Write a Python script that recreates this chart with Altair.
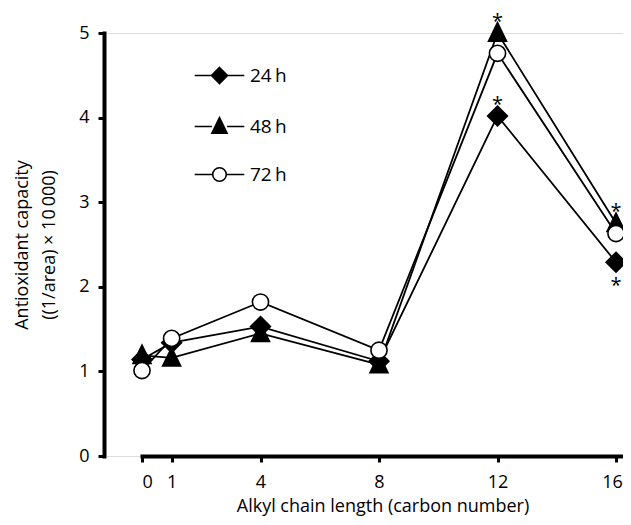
import altair as alt
import pandas as pd

# ---- data ----
carbon = [0, 1, 4, 8, 12, 16]
series_names = ["24\u2009h", "48\u2009h", "72\u2009h"]
v24 = [1.14, 1.34, 1.53, 1.12, 4.02, 2.29]
v48 = [1.19, 1.16, 1.45, 1.08, 5.00, 2.75]
v72 = [1.01, 1.39, 1.82, 1.25, 4.76, 2.63]

# significance stars (x, y of the marker they belong to)
star_above_x = [12, 12, 16]
star_above_y = [5.00, 4.02, 2.75]
star_below_x = [16]
star_below_y = [2.29]

x_ticks = [0, 1, 4, 8, 12, 16]
y_ticks = [0, 1, 2, 3, 4, 5]

rows = []
for name, vals in zip(series_names, [v24, v48, v72]):
    for c, v in zip(carbon, vals):
        rows.append({"carbon": c, "value": v, "series": name})
df = pd.DataFrame(rows)
df_above = pd.DataFrame({"carbon": star_above_x, "value": star_above_y})
df_below = pd.DataFrame({"carbon": star_below_x, "value": star_below_y})

FONT = "Open Sans"
FILLS = ["black", "black", "white"]
STROKES = ["black", "black", "black"]

# marker paths (unit box)
P_DIAMOND = "M0,-1.1L1.1,0L0,1.1L-1.1,0Z"
P_TRIANGLE = "M0,-1.15L1,0.9L-1,0.9Z"
P_CIRCLE = "M0.9,0A0.9,0.9,0,1,1,-0.9,0A0.9,0.9,0,1,1,0.9,0Z"

# legend paths: marker with a line through it
L_DIAMOND = "M-3.1,0H-1M1,0H3.1M0,-1L1,0L0,1L-1,0Z"
L_TRIANGLE = "M-3.1,0H-0.95M0.95,0H3.1M0,-1.1L0.95,0.85L-0.95,0.85Z"
L_CIRCLE = "M-3.1,0H-0.85M0.85,0H3.1M0.85,0A0.85,0.85,0,1,1,-0.85,0A0.85,0.85,0,1,1,0.85,0Z"

legend = alt.Legend(
    title=None,
    orient="none",
    legendX=106,
    legendY=33,
    symbolSize=256,
    symbolStrokeColor="black",
    symbolStrokeWidth=1.6,
    symbolOpacity=1,
    labelFont=FONT,
    labelFontSize=19,
    labelColor="black",
    labelOffset=21,
    rowPadding=27,
)

x_scale = alt.Scale(domain=[0, 16.236], range=[38, 519], nice=False, zero=False)
y_scale = alt.Scale(domain=[0, 5], nice=False)

x_enc = alt.X(
    "carbon:Q",
    scale=x_scale,
    axis=alt.Axis(
        values=x_ticks,
        format="d",
        title="Alkyl chain length (carbon number)",
        titleFont=FONT,
        titleFontSize=18,
        titleFontWeight="normal",
        titleColor="black",
        titlePadding=6,
        labelFont=FONT,
        labelFontSize=18,
        labelColor="black",
        labelPadding=11,
        labelOffset={"condition": {"test": "datum.value == 16", "value": -4}, "value": 0},
        domainColor="black",
        domainWidth=4,
        domainCap="square",
        tickColor="black",
        tickWidth=3,
        tickSize=6,
        grid=False,
    ),
)
y_enc = alt.Y(
    "value:Q",
    scale=y_scale,
    axis=alt.Axis(
        values=y_ticks,
        format="d",
        title=["Antioxidant capacity", "((1/area) \u00d7 10\u2009000)"],
        titleFont=FONT,
        titleFontSize=18,
        titleFontWeight="normal",
        titleColor="black",
        titleLineHeight=27,
        titlePadding=20,
        labelFont=FONT,
        labelFontSize=18,
        labelColor="black",
        labelPadding=9,
        domainColor="black",
        domainWidth=4,
        domainCap="square",
        tickColor="black",
        tickWidth=3,
        tickSize=6,
        grid=False,
    ),
)

lines = alt.Chart(df).mark_line(color="black", strokeWidth=1.8).encode(
    x=x_enc, y=y_enc, detail="series:N"
)

points = alt.Chart(df).mark_point(
    filled=True, stroke="black", strokeWidth=1.6, size=324, opacity=1
).encode(
    x="carbon:Q",
    y="value:Q",
    shape=alt.Shape(
        "series:N",
        scale=alt.Scale(domain=series_names, range=[P_DIAMOND, P_TRIANGLE, P_CIRCLE]),
        legend=None,
    ),
    fill=alt.Fill(
        "series:N",
        scale=alt.Scale(domain=series_names, range=FILLS),
        legend=None,
    ),
)

# invisible layer that only carries the legend (marker with line through it)
legend_layer = alt.Chart(df).mark_point(
    filled=True, strokeWidth=1.6, size=256, opacity=0
).encode(
    x="carbon:Q",
    y="value:Q",
    shape=alt.Shape(
        "series:N",
        scale=alt.Scale(domain=series_names, range=[L_DIAMOND, L_TRIANGLE, L_CIRCLE]),
        legend=legend,
    ),
    fill=alt.Fill(
        "series:N",
        scale=alt.Scale(domain=series_names, range=FILLS),
        legend=legend,
    ),
    stroke=alt.Stroke(
        "series:N",
        scale=alt.Scale(domain=series_names, range=STROKES),
        legend=legend,
    ),
)

stars_above = alt.Chart(df_above).mark_text(
    text="*", font=FONT, fontSize=20, color="black", dy=-21, baseline="top"
).encode(x="carbon:Q", y="value:Q")

stars_below = alt.Chart(df_below).mark_text(
    text="*", font=FONT, fontSize=20, color="black", dy=14, baseline="top"
).encode(x="carbon:Q", y="value:Q")

chart = (
    alt.layer(lines, points, legend_layer, stars_above, stars_below)
    .resolve_scale(shape="independent", fill="independent", stroke="independent")
    .properties(
        width=519,
        height=423,
        autosize=alt.AutoSizeParams(type="none"),
        padding={"left": 96, "top": 25, "right": 0, "bottom": 61},
    )
    .configure_view(stroke=None)
    .configure(background="white")
)

chart.save("out.html", embed_options={"renderer": "svg", "actions": False})
